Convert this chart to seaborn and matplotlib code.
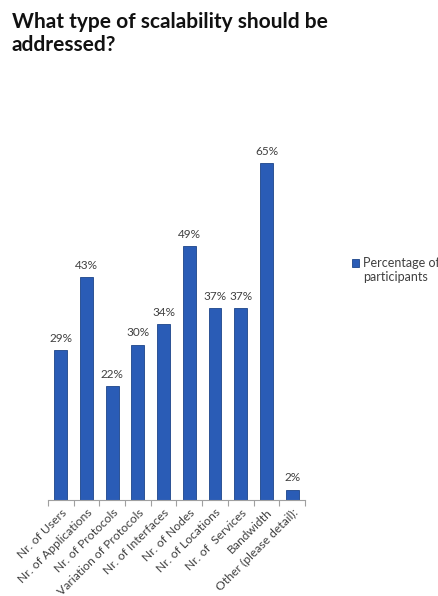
import matplotlib
matplotlib.use("Agg")
import matplotlib.pyplot as plt
import seaborn as sns
import numpy as np
import pandas as pd

categories = ["Nr. of Users", "Nr. of Applications", "Nr. of Protocols",
              "Variation of Protocols", "Nr. of Interfaces", "Nr. of Nodes",
              "Nr. of Locations", "Nr. of  Services", "Bandwidth",
              "Other (please detail):"]
values = [29, 43, 22, 30, 34, 49, 37, 37, 65, 2]
series_name = "Percentage of\nparticipants"
title = "What type of scalability should be\naddressed?"

sns.set_theme(style="white")
plt.rcParams['font.family'] = ['Lato', 'DejaVu Sans']

df = pd.DataFrame({"cat": categories, "val": values, "series": series_name})

fig = plt.figure(figsize=(4.39, 5.96), dpi=100)
ax = fig.add_axes([0.109, 0.161, 0.586, 0.6085])

sns.barplot(data=df, x="cat", y="val", hue="series", ax=ax, width=0.5,
            palette=["#2A5CB6"], saturation=1, edgecolor="#1C4489",
            linewidth=0.6, legend=True)

for p, v in zip(ax.patches, values):
    ax.text(p.get_x() + p.get_width() / 2, v + 1.2, f"{v}%", ha="center",
            va="bottom", fontsize=8.5, color="#404040")

ax.set_ylim(0, 70)
ax.set_xlim(-0.5, len(categories) - 0.5)
ax.set_xlabel("")
ax.set_ylabel("")
ax.set_yticks([])
for s in ["top", "right", "left"]:
    ax.spines[s].set_visible(False)
ax.spines["bottom"].set_color("#A0A0A0")
ax.spines["bottom"].set_linewidth(0.8)

ax.set_xticks(range(len(categories)))
ax.set_xticklabels(categories, rotation=45, ha="right", rotation_mode="anchor",
                   fontsize=8.7, color="#404040")
ax.tick_params(axis="x", which="major", length=0, pad=5)
ax.set_xticks(np.arange(-0.5, len(categories), 1), minor=True)
ax.tick_params(axis="x", which="minor", length=4, color="#A0A0A0", width=0.8,
               bottom=True)

leg = ax.legend(loc="center left", bbox_to_anchor=(0.79, 0.547),
                bbox_transform=fig.transFigure, frameon=False, fontsize=9,
                handlelength=0.6, handleheight=0.6, handletextpad=0.3,
                borderaxespad=0)
for t in leg.get_texts():
    t.set_color("#404040")
for h in leg.legend_handles:
    h.set_y(h.get_y() + 5.5)

fig.text(0.027, 0.98, title, ha="left", va="top", fontsize=15,
         fontweight="bold", color="#111111", linespacing=1.2)

fig.savefig("out.png", dpi=100)
